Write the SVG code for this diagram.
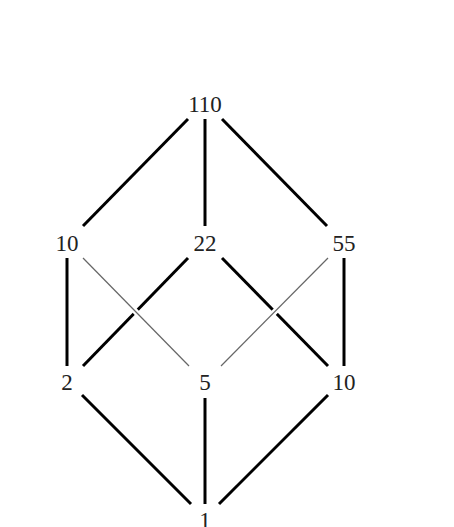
<svg xmlns="http://www.w3.org/2000/svg" width="454" height="527" viewBox="0 0 454 527">
<style>
.thick{stroke:#000;stroke-width:3;fill:none}
.halo{stroke:#fff;stroke-width:6;fill:none}
.thin{stroke:#666;stroke-width:1.2;fill:none}
.lbl{font-family:"Liberation Serif","Times New Roman",serif;font-size:23px;fill:#222;text-anchor:middle}
</style>
<rect width="454" height="527" fill="#fff"/>
<g id="connectors">
<line class="thick" x1="188" y1="119" x2="83" y2="226"/>
<line class="thick" x1="205" y1="119" x2="205" y2="226"/>
<line class="thick" x1="222" y1="119" x2="327" y2="226"/>
<line class="thick" x1="67" y1="258" x2="67" y2="366"/>
<line class="thick" x1="188" y1="258" x2="83" y2="366"/>
<line class="thick" x1="222" y1="258" x2="328" y2="366"/>
<line class="thick" x1="344" y1="258" x2="344" y2="366"/>
<line class="halo" x1="95" y1="270" x2="177" y2="354"/>
<line class="halo" x1="316" y1="270" x2="233" y2="354"/>
<line class="thin" x1="83" y1="258" x2="189" y2="366"/>
<line class="thin" x1="328" y1="258" x2="221" y2="366"/>
<line class="thick" x1="82" y1="395" x2="191" y2="504"/>
<line class="thick" x1="205" y1="398" x2="205" y2="504"/>
<line class="thick" x1="328" y1="395" x2="219" y2="504"/>
</g>
<g id="n110"><text class="lbl" x="205" y="112">110</text></g>
<g id="n10a"><text class="lbl" x="67" y="251">10</text></g>
<g id="n22"><text class="lbl" x="205" y="251">22</text></g>
<g id="n55"><text class="lbl" x="344" y="251">55</text></g>
<g id="n2"><text class="lbl" x="67" y="390">2</text></g>
<g id="n5"><text class="lbl" x="205" y="390">5</text></g>
<g id="n10b"><text class="lbl" x="344" y="390">10</text></g>
<g id="n1"><text class="lbl" x="205" y="528">1</text></g>
</svg>
